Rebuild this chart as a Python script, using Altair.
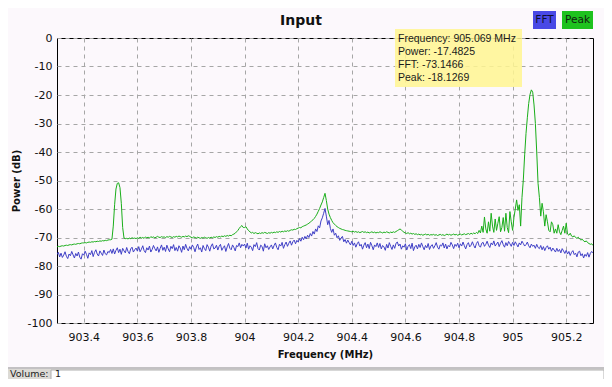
import altair as alt
import pandas as pd

# ---------------- data ----------------
FREQ_START = 903.30      # MHz, first FFT bin
FREQ_STEP = 0.005        # MHz between bins

# Peak-hold trace (green), dB
PEAK = [
    -73.3, -73.1, -73.2, -73.0, -72.9, -73.0, -72.8, -72.7, -72.8, -72.6, -72.5, -72.6, -72.4, -72.3, -72.4, -72.2, -72.1, -72.2, -72.0, -71.9,
    -71.9, -71.8, -71.9, -71.7, -71.6, -71.7, -71.5, -71.6, -71.4, -71.5, -71.3, -71.4, -71.2, -71.3, -71.1, -71.2, -71.0, -71.1, -70.9, -70.8,
    -70.8, -70.6, -66.0, -58.5, -53.0, -51.0, -50.8, -52.5, -58.0, -66.5, -70.2, -70.4, -70.3, -70.5, -70.2, -70.4, -70.1, -70.3, -70.2, -70.4,
    -70.1, -70.3, -69.9, -70.2, -70.0, -70.3, -69.8, -70.1, -69.9, -70.2, -69.7, -70.0, -69.8, -70.1, -69.9, -69.6, -69.9, -70.0, -69.7, -69.9,
    -69.8, -70.0, -69.7, -69.9, -69.6, -69.8, -70.0, -69.7, -69.9, -69.6, -69.8, -69.5, -69.7, -69.9, -69.6, -69.8, -69.5, -69.7, -69.4, -69.6,
    -69.9, -70.1, -69.8, -70.0, -70.2, -69.9, -70.1, -70.3, -70.0, -70.2, -69.9, -70.1, -70.3, -70.0, -70.2, -69.9, -70.1, -69.8, -70.0, -69.7,
    -69.9, -69.6, -69.8, -69.5, -69.7, -69.4, -69.6, -69.3, -69.5, -69.2, -69.4, -69.0, -68.8, -68.5, -68.0, -67.5, -66.8, -66.2, -65.8, -66.5,
    -66.5, -66.2, -67.0, -67.6, -68.0, -68.4, -68.2, -68.6, -68.3, -68.5, -68.7, -68.4, -68.6, -68.3, -68.5, -68.2, -68.4, -68.6, -68.3, -68.5,
    -68.2, -68.4, -68.1, -68.3, -68.0, -68.2, -67.9, -68.1, -67.8, -68.0, -67.7, -67.9, -67.6, -67.8, -67.5, -67.3, -67.4, -67.1, -67.2, -66.9,
    -66.7, -66.5, -66.6, -66.2, -66.0, -65.8, -65.6, -65.3, -65.0, -64.6, -64.2, -63.8, -63.3, -62.6, -61.8, -60.8, -59.8, -58.6, -57.5, -56.0,
    -54.5, -57.0, -60.0, -61.8, -63.0, -64.0, -64.8, -65.3, -65.8, -66.2, -66.5, -66.8, -67.0, -67.2, -67.3, -67.5, -67.6, -67.7, -67.8, -67.9,
    -68.0, -67.8, -68.1, -67.9, -68.2, -68.0, -68.3, -68.1, -67.9, -68.2, -68.0, -68.3, -68.1, -68.4, -68.2, -68.0, -68.3, -68.1, -68.4, -68.2,
    -68.3, -68.0, -68.2, -68.4, -68.1, -68.3, -68.0, -68.2, -68.4, -68.1, -68.3, -68.0, -68.2, -67.9, -67.6, -67.3, -67.0, -67.4, -67.8, -68.2,
    -68.4, -68.6, -68.3, -68.7, -68.5, -68.8, -68.6, -68.9, -68.7, -69.0, -68.8, -69.1, -68.9, -69.2, -69.0, -68.8, -69.1, -68.9, -69.2, -69.0,
    -69.1, -68.9, -69.2, -69.0, -69.3, -69.1, -68.9, -69.2, -69.0, -69.3, -69.1, -68.8, -69.1, -68.9, -69.2, -69.0, -68.8, -69.1, -68.9, -69.2,
    -69.0, -68.8, -69.1, -68.9, -68.7, -69.0, -68.8, -68.6, -68.9, -68.5, -68.8, -68.4, -68.7, -68.2, -68.6, -67.5, -68.4, -66.0, -68.2, -62.8,
    -67.0, -68.5, -64.5, -67.8, -61.5, -66.0, -68.2, -63.5, -67.5, -65.0, -62.7, -68.0, -66.5, -63.0, -67.8, -61.5, -66.5, -68.3, -60.9, -64.5,
    -67.5, -63.0, -60.0, -56.8, -60.5, -58.5, -66.0, -56.0, -49.8, -41.0, -33.5, -28.0, -23.0, -19.8, -18.2, -19.0, -23.5, -30.0, -40.0, -51.0,
    -56.0, -62.5, -58.0, -61.0, -66.0, -62.0, -64.5, -67.5, -68.0, -64.5, -65.5, -68.5, -67.0, -68.5, -65.5, -68.0, -69.0, -67.5, -66.0, -68.5,
    -65.0, -68.8, -69.2, -68.5, -69.5, -69.8, -69.4, -70.0, -70.3, -69.9, -70.5, -70.9, -70.6, -71.2, -71.5, -71.2, -71.8, -72.1, -72.4, -72.2,
    -72.8,
]

# Live FFT trace (blue), dB
FFT = [
    -76.0, -75.2, -76.8, -75.5, -77.0, -76.2, -75.0, -76.6, -77.4, -75.8, -76.4, -74.9, -76.1, -77.2, -75.6, -76.5, -75.1, -76.9, -77.6, -75.7,
    -76.2, -74.8, -75.9, -77.3, -75.4, -76.0, -74.6, -76.7, -75.2, -74.3, -75.8, -76.5, -74.7, -75.5, -76.3, -74.4, -75.7, -76.1, -74.9, -75.3,
    -74.2, -75.6, -74.0, -75.8, -74.5, -73.6, -75.3, -74.1, -75.9, -73.8, -74.7, -75.4, -73.5, -74.9, -75.7, -74.0, -73.4, -75.1, -74.3, -73.7,
    -74.8, -73.2, -75.0, -74.1, -72.9, -74.6, -75.3, -73.6, -74.4, -73.0, -75.1, -74.2, -72.8, -73.9, -74.7, -73.3, -75.2, -73.8, -72.6, -74.5,
    -73.4, -74.9, -72.7, -74.0, -75.0, -73.1, -73.9, -72.5, -74.6, -73.5, -74.8, -72.9, -73.7, -75.2, -73.0, -74.3, -72.4, -73.8, -74.7, -73.2,
    -74.1, -72.6, -73.5, -75.0, -73.3, -72.3, -74.2, -73.6, -75.1, -72.8, -73.9, -74.6, -72.5, -73.4, -74.8, -73.0, -72.2, -74.0, -73.7, -72.7,
    -74.4, -73.1, -72.4, -74.5, -73.6, -72.9, -74.9, -73.3, -72.1, -73.8, -74.3, -72.6, -73.5, -74.7, -72.8, -73.2, -71.9, -73.6, -72.4, -73.0,
    -72.3, -73.7, -72.0, -74.1, -72.9, -73.4, -74.6, -72.5, -73.2, -71.8, -73.9, -74.4, -72.7, -73.1, -74.8, -72.2, -73.6, -72.9, -74.2, -73.3,
    -72.6, -74.0, -72.8, -71.9, -73.5, -74.3, -72.4, -73.0, -71.7, -73.8, -72.5, -71.6, -73.1, -72.0, -71.2, -72.7, -71.5, -70.9, -72.2, -71.0,
    -71.6, -70.4, -71.3, -69.9, -70.8, -69.6, -70.5, -69.2, -70.0, -68.6, -69.5, -67.9, -68.8, -67.0, -67.9, -65.9, -66.6, -64.2, -63.1, -61.5,
    -59.8, -62.5, -65.5, -64.0, -66.8, -68.2, -67.0, -69.2, -68.5, -70.1, -69.4, -71.0, -70.2, -69.6, -71.5, -70.7, -72.0, -70.9, -71.8, -72.6,
    -71.3, -72.8, -71.9, -73.4, -72.2, -71.5, -73.0, -72.4, -74.1, -72.7, -71.8, -73.6, -72.3, -73.9, -71.7, -72.9, -74.3, -72.6, -73.2, -71.9,
    -73.5, -72.1, -74.0, -72.8, -73.3, -74.5, -72.4, -73.7, -71.8, -73.1, -74.2, -72.6, -73.8, -72.0, -71.6, -73.0, -72.3, -74.1, -72.9, -73.4,
    -72.2, -74.4, -73.1, -72.5, -73.9, -72.0, -74.6, -73.3, -72.7, -74.0, -72.4, -73.5, -71.9, -73.2, -74.3, -72.8, -73.6, -72.1, -74.2, -73.0,
    -72.5, -73.8, -72.9, -71.8, -73.4, -74.1, -72.6, -73.0, -71.9, -73.7, -72.3, -74.0, -72.8, -73.3, -71.7, -72.6, -73.9, -72.4, -73.1, -72.0,
    -73.6, -72.2, -73.0, -71.6, -72.9, -74.0, -72.5, -71.8, -73.3, -72.7, -71.5, -72.8, -73.7, -72.1, -71.4, -72.9, -73.4, -72.0, -71.7, -73.1,
    -72.4, -71.3, -72.7, -73.5, -71.9, -72.6, -71.2, -73.0, -72.3, -71.6, -73.2, -72.0, -71.1, -72.5, -73.4, -71.8, -72.9, -71.4, -72.2, -73.1,
    -71.7, -72.8, -71.5, -72.4, -73.3, -71.9, -72.6, -71.3, -72.1, -73.0, -72.5, -71.6, -72.9, -73.6, -72.3, -73.1, -72.7, -73.8, -72.4, -73.5,
    -73.9, -72.8, -74.3, -73.2, -74.6, -73.5, -72.9, -74.1, -73.4, -74.8, -73.7, -74.4, -75.1, -73.8, -74.9, -74.2, -75.4, -73.9, -74.7, -75.6,
    -74.5, -75.8, -74.9, -76.3, -75.2, -74.6, -76.0, -75.5, -76.8, -75.1, -74.8, -76.4, -75.7, -77.2, -75.9, -76.6, -75.3, -76.9, -75.6, -74.9,
    -75.4,
]

SERIES = ["FFT", "Peak"]
SERIES_LINE_COLORS = ["#3f3fc6", "#1aae1a"]
SERIES_BOX_COLORS = ["#4949e6", "#1ec21e"]

X_DOMAIN = [903.3, 905.3]
X_TICKS = [903.4, 903.6, 903.8, 904.0, 904.2, 904.4, 904.6, 904.8, 905.0, 905.2]
Y_DOMAIN = [-100, 0]
Y_TICKS = [0, -10, -20, -30, -40, -50, -60, -70, -80, -90, -100]

TITLE = "Input"
X_TITLE = "Frequency (MHz)"
Y_TITLE = "Power (dB)"
TOOLTIP_LINES = ["Frequency: 905.069 MHz", "Power: -17.4825", "FFT: -73.1466", "Peak: -18.1269"]
VOLUME_LABEL = "Volume:"
VOLUME_VALUE = "1"

# ---------------- build table ----------------
n = len(PEAK)
freqs = [round(FREQ_START + i * FREQ_STEP, 3) for i in range(n)]
df = pd.DataFrame({
    "freq": freqs + freqs,
    "power": FFT + PEAK,
    "series": ["FFT"] * n + ["Peak"] * n,
})

BG = "#fcf8fc"
W, H = 536, 285
one = alt.Data(values=[{"k": 1}])

lines = alt.Chart(df).mark_line(strokeWidth=1, clip=True).encode(
    x=alt.X("freq:Q",
            scale=alt.Scale(domain=X_DOMAIN, nice=False, zero=False),
            axis=alt.Axis(values=X_TICKS, title=X_TITLE, labelExpr="'' + datum.value")),
    y=alt.Y("power:Q",
            scale=alt.Scale(domain=Y_DOMAIN, nice=False, zero=False),
            axis=alt.Axis(values=Y_TICKS, title=Y_TITLE, labelExpr="'' + datum.value")),
    color=alt.Color("series:N",
                    scale=alt.Scale(domain=SERIES, range=SERIES_LINE_COLORS),
                    legend=None),
)

# chart title (centred on the widget, not the plot)
title = alt.Chart(one).mark_text(
    text=TITLE, font="DejaVu Sans", fontSize=14, fontWeight="bold",
    color="#111111", align="center", baseline="middle",
).encode(x=alt.value(244), y=alt.value(-17))

# legend boxes
leg_box_fft = alt.Chart(one).mark_rect(color=SERIES_BOX_COLORS[0]).encode(
    x=alt.value(476), x2=alt.value(499), y=alt.value(-27), y2=alt.value(-9))
leg_box_peak = alt.Chart(one).mark_rect(color=SERIES_BOX_COLORS[1]).encode(
    x=alt.value(505), x2=alt.value(536), y=alt.value(-27), y2=alt.value(-9))
leg_txt_fft = alt.Chart(one).mark_text(
    text=SERIES[0], font="DejaVu Sans", fontSize=10.5, color="#101030",
    align="center", baseline="middle").encode(x=alt.value(487.5), y=alt.value(-18))
leg_txt_peak = alt.Chart(one).mark_text(
    text=SERIES[1], font="DejaVu Sans", fontSize=10.5, color="#102010",
    align="center", baseline="middle").encode(x=alt.value(520.5), y=alt.value(-18))

# hover readout box
tip_box = alt.Chart(one).mark_rect(color="#fff690", opacity=0.85).encode(
    x=alt.value(338), x2=alt.value(465), y=alt.value(-9), y2=alt.value(49))
tip_txt = alt.Chart(one).mark_text(
    text=TOOLTIP_LINES, font="Liberation Sans", fontSize=10.5, lineHeight=13,
    color="#1a1a1a", align="left", baseline="top",
).encode(x=alt.value(341), y=alt.value(-4))

# window chrome under the plot widget
chrome_line = alt.Chart(one).mark_rule(color="#8a8a8a", strokeWidth=1).encode(
    x=alt.value(-49), x2=alt.value(547), y=alt.value(330))
chrome_band = alt.Chart(one).mark_rect(color="#dcdad5").encode(
    x=alt.value(-49), x2=alt.value(547), y=alt.value(331), y2=alt.value(341))
vol_box = alt.Chart(one).mark_rect(color="white", stroke="#b0b0b0", strokeWidth=1).encode(
    x=alt.value(-6), x2=alt.value(547), y=alt.value(332), y2=alt.value(345))
vol_lbl = alt.Chart(one).mark_text(
    text=VOLUME_LABEL, font="DejaVu Sans", fontSize=9.5, color="#222222",
    align="left", baseline="middle").encode(x=alt.value(-47), y=alt.value(335.5))
vol_val = alt.Chart(one).mark_text(
    text=VOLUME_VALUE, font="DejaVu Sans", fontSize=9.5, color="#222222",
    align="left", baseline="middle").encode(x=alt.value(-2), y=alt.value(335.5))

chart = alt.layer(
    lines, title, tip_box, tip_txt,
    leg_box_fft, leg_box_peak, leg_txt_fft, leg_txt_peak,
    chrome_line, chrome_band, vol_box, vol_lbl, vol_val,
).properties(
    width=W, height=H,
    padding={"left": 49, "top": 30, "right": 11, "bottom": 56},
    autosize=alt.AutoSizeParams(type="none"),
).configure(
    background=BG,
).configure_view(
    fill=BG, stroke="#000000", strokeWidth=1,
).configure_axis(
    grid=True, gridColor="#a6a6a6", gridDash=[4, 4], gridWidth=1,
    domain=False, ticks=False,
    labelFont="DejaVu Sans", labelFontSize=11, labelColor="#111111",
    titleFont="DejaVu Sans", titleFontSize=10, titleFontWeight="bold", titleColor="#111111",
).configure_axisX(
    labelPadding=8, titlePadding=7,
).configure_axisY(
    labelPadding=5, titlePadding=6,
)

chart.save("out.html", embed_options={"renderer": "svg", "actions": False})
